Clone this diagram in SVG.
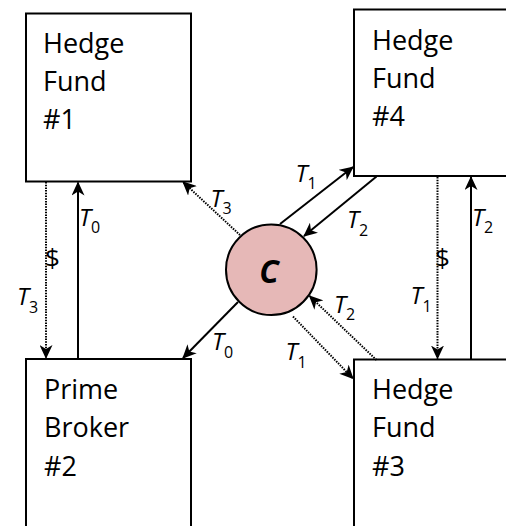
<svg xmlns="http://www.w3.org/2000/svg" width="506" height="526" viewBox="0 0 506 526">
<style>
.box{fill:#fff;stroke:#000;stroke-width:2}
.lbl{font-family:"Open Sans","Noto Sans",sans-serif;font-size:27px;fill:#000}
.ln{fill:none;stroke:#000;stroke-width:2}
.dot{fill:none;stroke:#000;stroke-width:2;stroke-dasharray:1.5 1.2}
.t{font-family:"Open Sans","Noto Sans",sans-serif;font-size:24px;fill:#000}
.t .v{font-style:italic}
.t .s{font-size:16px}
.d{font-family:"Open Sans","Noto Sans",sans-serif;font-size:26px;fill:#000}
</style>
<defs>
<marker id="ah" viewBox="0 0 14 13" refX="13" refY="6.5" markerWidth="14" markerHeight="13" markerUnits="userSpaceOnUse" orient="auto">
<path d="M0,0 L14,6.5 L0,13 L4,6.5 z" fill="#000"/>
</marker>
</defs>
<g id="hf1">
<rect class="box" x="26" y="13.5" width="165" height="168"/>
<text class="lbl" x="43" y="53">Hedge</text>
<text class="lbl" x="43" y="91">Fund</text>
<text class="lbl" x="43" y="129">#1</text>
</g>
<g id="hf4">
<rect class="box" x="354" y="9.5" width="200" height="166.5"/>
<text class="lbl" x="372" y="49.5">Hedge</text>
<text class="lbl" x="372" y="88">Fund</text>
<text class="lbl" x="372" y="126">#4</text>
</g>
<g id="pb2">
<rect class="box" x="26" y="359" width="165" height="200"/>
<text class="lbl" x="44" y="399">Prime</text>
<text class="lbl" x="44" y="437">Broker</text>
<text class="lbl" x="44" y="475.5">#2</text>
</g>
<g id="hf3">
<rect class="box" x="354" y="359.5" width="200" height="200"/>
<text class="lbl" x="372" y="399">Hedge</text>
<text class="lbl" x="372" y="437">Fund</text>
<text class="lbl" x="372" y="475.5">#3</text>
</g>
<g id="c">
<circle cx="271.3" cy="269.7" r="45.3" fill="#e6b8b7" stroke="#000" stroke-width="2"/>
<text x="269" y="283" text-anchor="middle" font-family="'Open Sans','Noto Sans',sans-serif" font-size="32" font-weight="bold" font-style="italic">C</text>
</g>
<g id="connectors">
<line class="dot" x1="46" y1="182" x2="46" y2="358" marker-end="url(#ah)"/>
<line class="ln" x1="78" y1="359" x2="78" y2="182.5" marker-end="url(#ah)"/>
<line class="dot" x1="240" y1="235" x2="183" y2="182" marker-end="url(#ah)"/>
<line class="ln" x1="280" y1="224" x2="353" y2="167" marker-end="url(#ah)"/>
<line class="ln" x1="376.5" y1="176.5" x2="304" y2="236" marker-end="url(#ah)"/>
<line class="dot" x1="437.5" y1="177" x2="437.5" y2="358.5" marker-end="url(#ah)"/>
<line class="ln" x1="471" y1="359.5" x2="471" y2="177" marker-end="url(#ah)"/>
<line class="ln" x1="238" y1="302" x2="183" y2="358" marker-end="url(#ah)"/>
<line class="dot" x1="293" y1="316.5" x2="353" y2="378.5" marker-end="url(#ah)"/>
<line class="dot" x1="376.5" y1="360" x2="309.5" y2="296" marker-end="url(#ah)"/>
</g>
<g id="labels">
<text class="d" x="45" y="267">$</text>
<text class="d" x="435" y="267">$</text>
<text class="t" x="79" y="226"><tspan class="v">T</tspan><tspan class="s" dy="7">0</tspan></text>
<text class="t" x="17" y="305"><tspan class="v">T</tspan><tspan class="s" dy="8">3</tspan></text>
<text class="t" x="210.5" y="206.5"><tspan class="v">T</tspan><tspan class="s" dy="7">3</tspan></text>
<text class="t" x="295.5" y="181.5"><tspan class="v">T</tspan><tspan class="s" dy="7">1</tspan></text>
<text class="t" x="347" y="228"><tspan class="v">T</tspan><tspan class="s" dy="8">2</tspan></text>
<text class="t" x="472" y="226"><tspan class="v">T</tspan><tspan class="s" dy="7">2</tspan></text>
<text class="t" x="410.5" y="304"><tspan class="v">T</tspan><tspan class="s" dy="8">1</tspan></text>
<text class="t" x="334" y="313"><tspan class="v">T</tspan><tspan class="s" dy="7">2</tspan></text>
<text class="t" x="285.5" y="360"><tspan class="v">T</tspan><tspan class="s" dy="8">1</tspan></text>
<text class="t" x="212" y="350"><tspan class="v">T</tspan><tspan class="s" dy="8">0</tspan></text>
</g>
</svg>
